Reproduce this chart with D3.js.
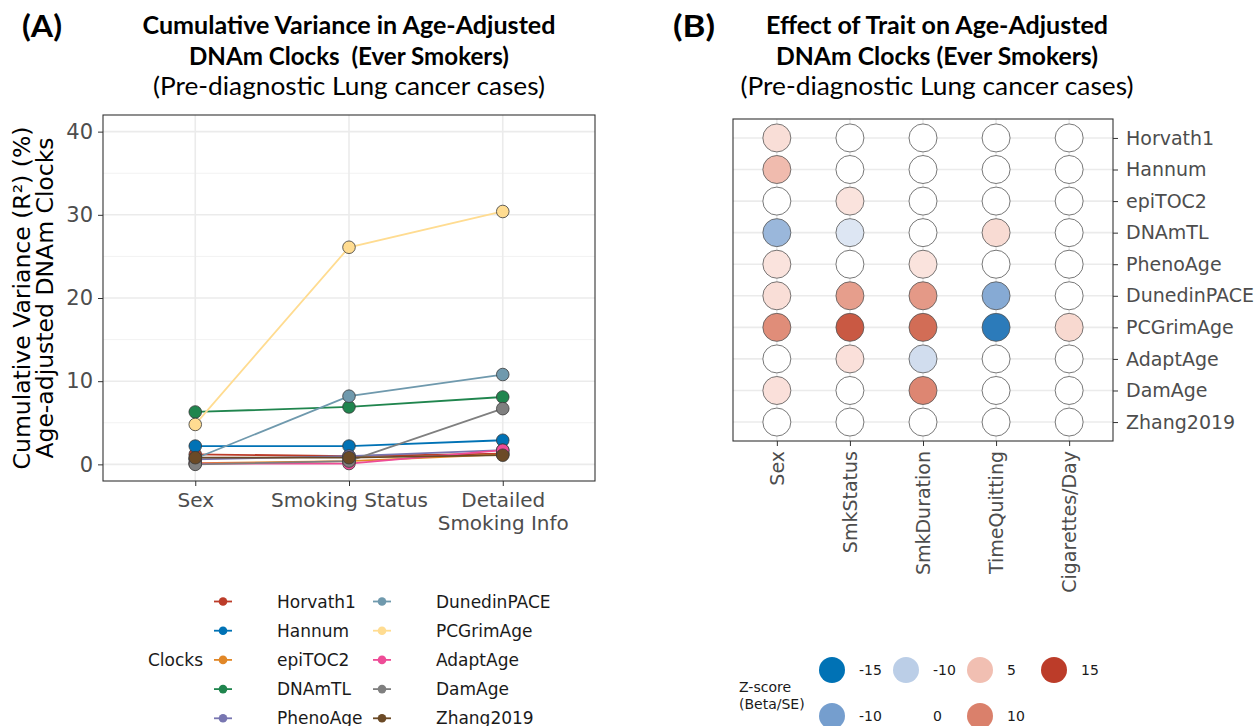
<!DOCTYPE html>
<html>
<head>
<meta charset="utf-8">
<script src="https://cdn.jsdelivr.net/npm/d3@7"></script>
<style>
  body { margin: 0; background: #fff; }
  svg { display: block; }
  .title { font-family: Lato, "Open Sans", sans-serif; fill: #000; }
  .axis text { font-family: "DejaVu Sans", sans-serif; fill: #4D4D4D; }
  .axis line { stroke: #333; }
  .axis path { display: none; }
</style>
</head>
<body>
<script>
// clocks and their colours
var clocks = ["Horvath1", "Hannum", "epiTOC2", "DNAmTL", "PhenoAge", "DunedinPACE", "PCGrimAge", "AdaptAge", "DamAge", "Zhang2019"];
var clockColors = ["#BC3C29", "#0072B5", "#E18727", "#20854E", "#7876B1", "#6F99AD", "#FFDC91", "#EE4C97", "#7F7F7F", "#6B4A26"];

// panel A: cumulative R2 (%) per model step
var steps = ["Sex", "Smoking Status", "Detailed Smoking Info"];
var stepLabels = [["Sex"], ["Smoking Status"], ["Detailed", "Smoking Info"]];
var r2Sex = [1.2, 2.2, 0.15, 6.3, 0.6, 0.7, 4.8, 0.1, 0.0, 0.8];
var r2Status = [1.0, 2.2, 0.4, 6.9, 1.0, 8.2, 26.1, 0.1, 0.4, 0.8];
var r2Detailed = [1.3, 2.9, 1.2, 8.1, 1.7, 10.8, 30.4, 1.7, 6.7, 1.1];
var yTicks = [0, 10, 20, 30, 40];

// panel B: z-scores (Beta/SE) per trait, one value per clock
var traits = ["Sex", "SmkStatus", "SmkDuration", "TimeQuitting", "Cigarettes/Day"];
var zSex = [2.6, 5.3, 0, -7.4, 2.2, 2.6, 9, 0, 2.4, 0];
var zSmkStatus = [0, 0, 2.2, -2.5, 0, 7.6, 13, 2.4, 0, 0];
var zSmkDuration = [0, 0, 0, 0, 2.2, 8, 11.5, -3.4, 9.5, 0];
var zTimeQuitting = [0, 0, 0, 2.8, 0, -8.8, -14, 0, 0, 0];
var zCigsDay = [0, 0, 0, 0, 0, 0, 3, 0, 0, 0];

// z-score legend (labels as printed in the figure)
var zLegendLabels = ["-15", "-10", "5", "15", "-10", "0", "10"];
var zLegendValues = [-15, -5, 5, 15, -10, 0, 10];

var width = 1255, height = 726;
var svg = d3.select("body").append("svg").attr("width", width).attr("height", height);

// ---------- titles ----------
function titleBlock(cx, tag, tagX, lines) {
  svg.append("text").attr("class", "title").attr("x", tagX).attr("y", 37)
    .attr("font-size", 31).attr("font-weight", 700)
    .attr("font-family", "DejaVu Sans, sans-serif").attr("textLength", tagX < 100 ? 40 : 42)
    .attr("lengthAdjust", "spacingAndGlyphs").text(tag);
  lines.forEach(function(l) {
    svg.append("text").attr("class", "title")
      .attr("x", cx).attr("y", l.y)
      .attr("text-anchor", "middle")
      .attr("font-size", 25.5)
      .attr("font-weight", l.bold ? 700 : 400)
      .attr("textLength", l.w).attr("lengthAdjust", "spacingAndGlyphs")
      .text(l.t);
  });
}
titleBlock(349, "(A)", 22, [
  {t: "Cumulative Variance in Age-Adjusted", y: 34, w: 413, bold: true},
  {t: "DNAm Clocks\u00A0 (Ever Smokers)", y: 65, w: 320, bold: true},
  {t: "(Pre-diagnostic Lung cancer cases)", y: 95, w: 392, bold: false}
]);
titleBlock(937, "(B)", 673, [
  {t: "Effect of Trait on Age-Adjusted", y: 34, w: 342, bold: true},
  {t: "DNAm Clocks (Ever Smokers)", y: 65, w: 322, bold: true},
  {t: "(Pre-diagnostic Lung cancer cases)", y: 95, w: 393, bold: false}
]);

// ---------- panel A ----------
var A = {x0: 103, x1: 595, y0: 115, y1: 481};
var xA = d3.scalePoint().domain(steps).range([A.x0, A.x1]).padding(0.6);
var yA = d3.scaleLinear().domain([-2, 42]).range([A.y1, A.y0]);
var gA = svg.append("g");

// grid
gA.selectAll(".minor").data([5, 15, 25, 35]).enter().append("line")
  .attr("x1", A.x0).attr("x2", A.x1).attr("y1", yA).attr("y2", yA)
  .attr("stroke", "#F2F2F2").attr("stroke-width", 1);
gA.selectAll(".major").data(yTicks).enter().append("line")
  .attr("x1", A.x0).attr("x2", A.x1).attr("y1", yA).attr("y2", yA)
  .attr("stroke", "#EBEBEB").attr("stroke-width", 1.6);
gA.selectAll(".vgrid").data(steps).enter().append("line")
  .attr("x1", xA).attr("x2", xA).attr("y1", A.y0).attr("y2", A.y1)
  .attr("stroke", "#EBEBEB").attr("stroke-width", 1.6);

var seriesA = clocks.map(function(c, i) {
  return {clock: c, color: clockColors[i], values: [r2Sex[i], r2Status[i], r2Detailed[i]]};
});
var line = d3.line().x(function(d, j) { return xA(steps[j]); }).y(function(d) { return yA(d); });
gA.selectAll(".series").data(seriesA).enter().append("path")
  .attr("d", function(s) { return line(s.values); })
  .attr("fill", "none").attr("stroke", function(s) { return s.color; })
  .attr("stroke-width", 1.8);
seriesA.forEach(function(s) {
  gA.selectAll(null).data(s.values).enter().append("circle")
    .attr("cx", function(d, j) { return xA(steps[j]); })
    .attr("cy", function(d) { return yA(d); })
    .attr("r", 6.3)
    .attr("fill", s.color).attr("stroke", "#3A3A3A").attr("stroke-width", 0.8);
});

gA.append("rect").attr("x", A.x0).attr("y", A.y0).attr("width", A.x1 - A.x0).attr("height", A.y1 - A.y0)
  .attr("fill", "none").attr("stroke", "#333").attr("stroke-width", 1.1);

var yAxisA = gA.append("g").attr("class", "axis").attr("transform", "translate(" + A.x0 + ",0)")
  .call(d3.axisLeft(yA).tickValues(yTicks).tickSize(5).tickPadding(5));
yAxisA.selectAll("text").attr("font-size", 21);

var xAxisA = gA.append("g").attr("class", "axis").attr("transform", "translate(0," + A.y1 + ")")
  .call(d3.axisBottom(xA).tickSize(5).tickFormat(""));
xAxisA.selectAll(".tick").each(function(d, i) {
  var t = d3.select(this).append("text").attr("font-size", 20).attr("text-anchor", "middle")
    .attr("fill", "#4D4D4D").attr("y", 26);
  stepLabels[i].forEach(function(l, k) {
    t.append("tspan").attr("x", 0).attr("dy", k === 0 ? 0 : 23).text(l);
  });
});

var yTitle = gA.append("text").attr("transform", "translate(30," + ((A.y0 + A.y1) / 2) + ") rotate(-90)")
  .attr("text-anchor", "middle").attr("font-family", "DejaVu Sans, sans-serif")
  .attr("font-size", 23.5).attr("fill", "#000");
yTitle.append("tspan").attr("x", 0).attr("dy", 0).text("Cumulative Variance (R²) (%)");
yTitle.append("tspan").attr("x", 0).attr("dy", 23).text("Age-adjusted DNAm Clocks");

// legend A
var legA = svg.append("g").attr("font-family", "DejaVu Sans, sans-serif");
legA.append("text").attr("x", 148).attr("y", 666).attr("font-size", 17).attr("fill", "#1a1a1a").text("Clocks");
var legItems = legA.selectAll(".li").data(seriesA).enter().append("g")
  .attr("transform", function(d, i) {
    var col = Math.floor(i / 5), row = i % 5;
    return "translate(" + (223 + col * 159) + "," + (601.5 + row * 29.2) + ")";
  });
legItems.append("line").attr("x1", -9).attr("x2", 9).attr("stroke", function(d) { return d.color; }).attr("stroke-width", 1.8);
legItems.append("circle").attr("r", 4.3).attr("fill", function(d) { return d.color; });
legItems.append("text").attr("x", 54).attr("y", 6).attr("font-size", 17).attr("fill", "#1a1a1a")
  .text(function(d) { return d.clock; });

// ---------- panel B ----------
var B = {x0: 733, x1: 1113, y0: 119, y1: 441};
var xB = d3.scalePoint().domain(traits).range([B.x0, B.x1]).padding(0.6);
var yB = d3.scalePoint().domain(clocks).range([B.y0, B.y1]).padding(0.6);
var zColor = d3.scaleLinear().domain([-15, 0, 15]).range(["#0072B5", "#FFFFFF", "#BC3C29"])
  .interpolate(d3.interpolateLab).clamp(true);
var gB = svg.append("g");

gB.selectAll(".hg").data(clocks).enter().append("line")
  .attr("x1", B.x0).attr("x2", B.x1).attr("y1", yB).attr("y2", yB)
  .attr("stroke", "#EBEBEB").attr("stroke-width", 1.6);
gB.selectAll(".vg").data(traits).enter().append("line")
  .attr("x1", xB).attr("x2", xB).attr("y1", B.y0).attr("y2", B.y1)
  .attr("stroke", "#EBEBEB").attr("stroke-width", 1.6);

var zCols = [zSex, zSmkStatus, zSmkDuration, zTimeQuitting, zCigsDay];
var cells = [];
traits.forEach(function(t, j) {
  clocks.forEach(function(c, i) { cells.push({trait: t, clock: c, z: zCols[j][i]}); });
});
gB.selectAll(".cell").data(cells).enter().append("circle")
  .attr("cx", function(d) { return xB(d.trait); })
  .attr("cy", function(d) { return yB(d.clock); })
  .attr("r", 14)
  .attr("fill", function(d) { return zColor(d.z); })
  .attr("stroke", "#555").attr("stroke-width", 0.8);

gB.append("rect").attr("x", B.x0).attr("y", B.y0).attr("width", B.x1 - B.x0).attr("height", B.y1 - B.y0)
  .attr("fill", "none").attr("stroke", "#333").attr("stroke-width", 1.1);

var yAxisB = gB.append("g").attr("class", "axis").attr("transform", "translate(" + B.x1 + ",0)")
  .call(d3.axisRight(yB).tickSize(5).tickPadding(8));
yAxisB.selectAll("text").attr("font-size", 19);

var xAxisB = gB.append("g").attr("class", "axis").attr("transform", "translate(0," + B.y1 + ")")
  .call(d3.axisBottom(xB).tickSize(5).tickPadding(6));
xAxisB.selectAll("text").attr("font-size", 19)
  .attr("transform", "rotate(-90)").attr("text-anchor", "end")
  .attr("x", -10).attr("y", 0).attr("dy", "0.35em");

// legend B
var legB = svg.append("g").attr("font-family", "DejaVu Sans, sans-serif");
legB.append("text").attr("x", 739).attr("y", 692).attr("font-size", 14).attr("fill", "#1a1a1a").text("Z-score");
legB.append("text").attr("x", 739).attr("y", 709).attr("font-size", 14).attr("fill", "#1a1a1a").text("(Beta/SE)");
var zItems = legB.selectAll(".zi").data(zLegendValues).enter().append("g")
  .attr("transform", function(d, i) {
    var row = i < 4 ? 0 : 1, col = i < 4 ? i : i - 4;
    return "translate(" + (832 + col * 74) + "," + (670 + row * 46) + ")";
  });
zItems.append("circle").attr("r", 13).attr("fill", function(d) { return zColor(d); });
zItems.append("text").attr("x", 27).attr("y", 5).attr("font-size", 14).attr("fill", "#1a1a1a")
  .text(function(d, i) { return zLegendLabels[i]; });
</script>
</body>
</html>
